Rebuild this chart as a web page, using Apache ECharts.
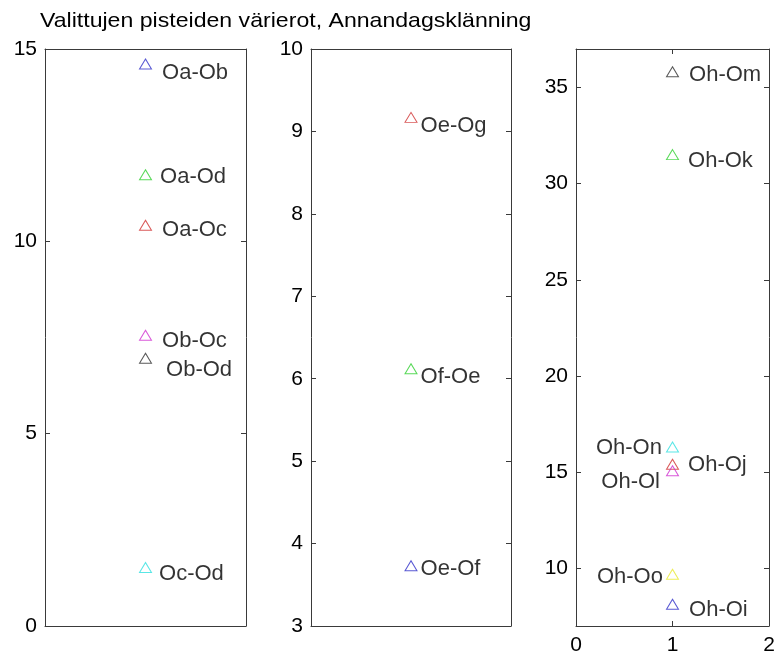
<!DOCTYPE html>
<html><head><meta charset="utf-8">
<script src="https://cdn.jsdelivr.net/npm/echarts@6/dist/echarts.min.js"></script>
<style>html,body{margin:0;padding:0;background:#fff}#c{width:781px;height:657px}</style>
</head><body><div id="c"></div>
<script>
// ---- data ----
const titleText = 'Valittujen pisteiden värierot, Annandagsklänning';
const xPosition = 1;
const p1Names = ['Oa-Ob', 'Oa-Od', 'Oa-Oc', 'Ob-Oc', 'Ob-Od', 'Oc-Od'];
const p1Values = [14.61, 11.73, 10.42, 7.56, 6.96, 1.52];
const p1Colors = ['b', 'g', 'r', 'm', 'k', 'c'];
const p1Ticks = [0, 5, 10, 15];
const p2Names = ['Oe-Og', 'Of-Oe', 'Oe-Of'];
const p2Values = [9.17, 6.12, 3.73];
const p2Colors = ['r', 'g', 'b'];
const p2Ticks = [3, 4, 5, 6, 7, 8, 9, 10];
const p3Names = ['Oh-Om', 'Oh-Ok', 'Oh-On', 'Oh-Oj', 'Oh-Ol', 'Oh-Oo', 'Oh-Oi'];
const p3Values = [35.82, 31.51, 16.31, 15.41, 15.07, 9.69, 8.13];
const p3Colors = ['k', 'g', 'c', 'r', 'm', 'y', 'b'];
const p3Ticks = [10, 15, 20, 25, 30, 35];
const xTicks = [0, 1, 2];

// ---- styles (label side, distance, vertical offset) ----
const p1Label = [['right', 10, 9], ['right', 8, 2], ['right', 10, 5], ['right', 10, 6], ['right', 14, 12], ['right', 7, 6]];
const p2Label = [['right', 3, 9], ['right', 3, 8], ['right', 3, 3]];
const p3Label = [['right', 10, 3], ['right', 9, 6], ['left', 4, 1], ['right', 9, 1], ['left', 6, 11], ['left', 3, 3], ['right', 10, 6]];
const colorMap = { b: '#3030c8', g: '#30d030', r: '#d03030', m: '#d030d0', c: '#30e0e0', y: '#e8e830', k: '#303030' };
const FONT = '"Liberation Sans", Arial, Helvetica, sans-serif';
const AX = '#3a3a3a';

const grids = [
  { left: 45, top: 49, width: 201, height: 577 },
  { left: 311, top: 49, width: 200, height: 577 },
  { left: 576, top: 49, width: 193, height: 577 }
];
const yRanges = [[0, 15], [3, 10], [7, 37]];
const yTicksList = [p1Ticks, p2Ticks, p3Ticks];
const yIntervals = [5, 1, null];
const showXList = [false, false, true];

const xAxes = [], yAxes = [];
grids.forEach((g, i) => {
  const showX = showXList[i];
  ['bottom', 'top'].forEach(pos => {
    xAxes.push({
      gridIndex: i, type: 'value', position: pos, min: 0, max: 2, interval: 1,
      axisLine: { show: true, onZero: false, lineStyle: { color: AX, width: 1 } },
      axisTick: { show: showX, inside: true, length: 5, lineStyle: { color: AX } },
      axisLabel: { show: showX && pos === 'bottom', margin: 9, fontSize: 21, color: '#000', fontFamily: FONT },
      splitLine: { show: false }
    });
  });
  ['left', 'right'].forEach(pos => {
    const ax = {
      gridIndex: i, type: 'value', position: pos, min: yRanges[i][0], max: yRanges[i][1],
      axisLine: { show: true, onZero: false, lineStyle: { color: AX, width: 1 } },
      axisTick: { show: true, inside: true, length: 5, lineStyle: { color: AX } },
      axisLabel: { show: pos === 'left', margin: 8, fontSize: 21, color: '#000', fontFamily: FONT },
      splitLine: { show: false }
    };
    if (yIntervals[i]) { ax.interval = yIntervals[i]; }
    else { ax.axisTick.customValues = yTicksList[i]; ax.axisLabel.customValues = yTicksList[i]; }
    yAxes.push(ax);
  });
});

function makeSeries(i, names, values, colors, labels) {
  return {
    type: 'scatter', xAxisIndex: 2 * i, yAxisIndex: 2 * i, silent: true,
    symbol: 'triangle', symbolSize: [12, 10],
    data: names.map((n, k) => ({
      name: n, value: [xPosition, values[k]],
      itemStyle: { color: 'rgba(0,0,0,0)', borderColor: colorMap[colors[k]], borderWidth: 1 },
      label: {
        show: true, position: labels[k][0], distance: labels[k][1], offset: [0, labels[k][2]],
        formatter: n, fontSize: 22, color: '#000', fontFamily: FONT
      }
    }))
  };
}

const chart = echarts.init(document.getElementById('c'), null, { renderer: 'canvas' });
chart.setOption({
  animation: false,
  backgroundColor: '#fff',
  graphic: [{
    type: 'text', left: 40, top: 11, scaleX: 1.1,
    style: { text: titleText, font: '21px "Liberation Sans", Arial, sans-serif', fill: '#000' }
  }],
  grid: grids,
  xAxis: xAxes,
  yAxis: yAxes,
  series: [
    makeSeries(0, p1Names, p1Values, p1Colors, p1Label),
    makeSeries(1, p2Names, p2Values, p2Colors, p2Label),
    makeSeries(2, p3Names, p3Values, p3Colors, p3Label)
  ]
});
</script></body></html>
